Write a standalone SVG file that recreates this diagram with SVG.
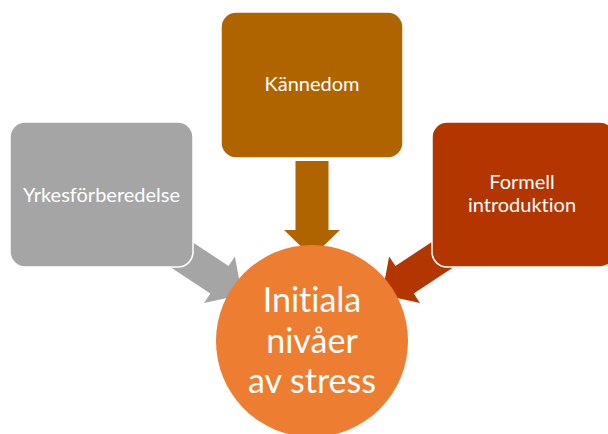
<svg xmlns="http://www.w3.org/2000/svg" width="608" height="434" viewBox="0 0 608 434">
  <defs>
    <style>
      .box { stroke: #ffffff; stroke-width: 1.5; }
      .lbl, .big { font-family: Lato, "Liberation Sans", sans-serif; fill: #ffffff; text-anchor: middle; font-variant-ligatures: none; }
      .lbl { font-size: 20px; }
      .big { font-size: 34px; }
    </style>
    <!-- block arrow pointing down, tip at (312,257) -->
    <path id="blockArrow" d="M295.5 161 H328.5 V230 H340 L312 257 L284 230 H295.5 Z"/>
  </defs>

  <!-- connectors, drawn beneath the boxes -->
  <g id="connectors">
    <use href="#blockArrow" fill="#A5A5A5" transform="rotate(-56.5 312 341)"/>
    <use href="#blockArrow" fill="#B06400"/>
    <use href="#blockArrow" fill="#B33500" transform="rotate(56.5 312 341)"/>
  </g>

  <g id="yrkesforberedelse">
    <rect class="box" x="10" y="122" width="183" height="145" rx="15" fill="#A5A5A5"/>
    <text class="lbl" x="101.5" y="202">Yrkesförberedelse</text>
  </g>

  <g id="kannedom">
    <rect class="box" x="221" y="12" width="182" height="146" rx="15" fill="#B06400"/>
    <text class="lbl" x="312" y="91">Kännedom</text>
  </g>

  <g id="formell-introduktion">
    <rect class="box" x="432" y="122" width="183" height="145" rx="15" fill="#B33500"/>
    <text class="lbl" x="522" y="189">Formell</text>
    <text class="lbl" x="522" y="212">introduktion</text>
  </g>

  <g id="initiala-nivaer">
    <circle cx="312" cy="341" r="96" fill="#ED7D31"/>
    <text class="big" x="312" y="312">Initiala</text>
    <text class="big" x="312" y="353">nivåer</text>
    <text class="big" x="312" y="393">av stress</text>
  </g>
</svg>
